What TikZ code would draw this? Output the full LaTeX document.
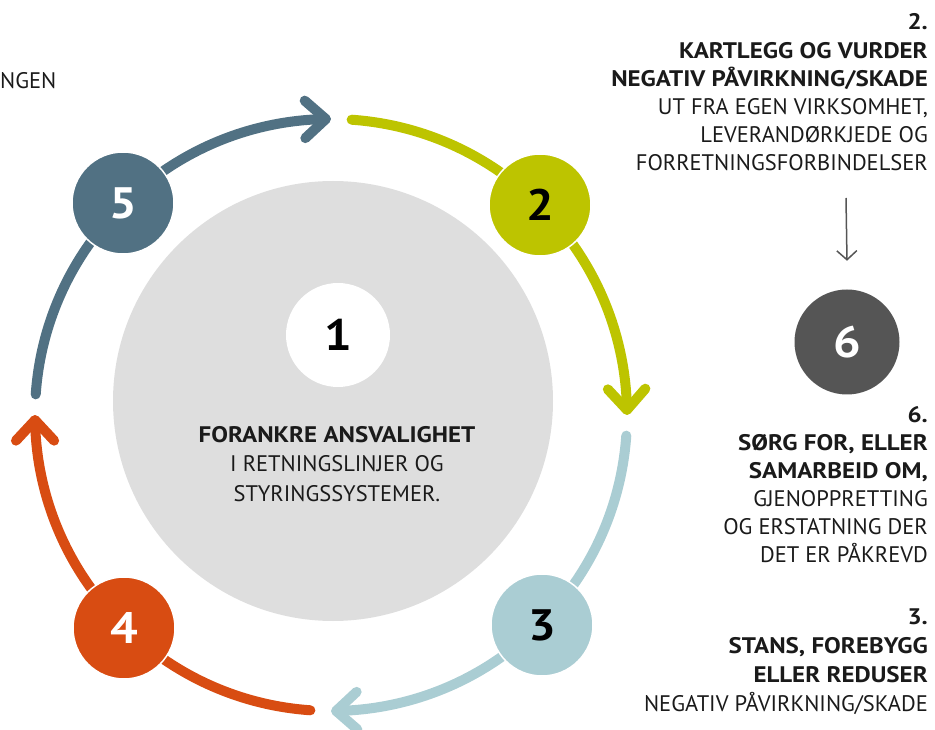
\documentclass[tikz,border=0pt]{standalone}
\usepackage{fontspec}
\setmainfont{PT Sans}[BoldFeatures={FakeStretch=1.11}]
\usetikzlibrary{calc,arrows.meta}
\definecolor{cblue}{HTML}{517183}
\definecolor{cgreen}{HTML}{BDC400}
\definecolor{clight}{HTML}{AACDD3}
\definecolor{corange}{HTML}{D84C12}
\definecolor{cgray}{HTML}{DEDEDE}
\definecolor{cdark}{HTML}{555555}
\definecolor{ctext}{HTML}{1A1A1A}
\begin{document}
\begin{tikzpicture}[x=1pt,y=1pt,
  seg/.style={line width=10pt, line cap=round, line join=round},
  numc/.style={circle, minimum size=102pt, inner sep=0pt, draw=white, line width=1.5pt,
    font=\fontsize{44}{44}\selectfont\bfseries},
  lbl/.style={align=right, anchor=base east, inner sep=0pt,
    font=\fontsize{22.5}{28.2}\selectfont, text=ctext},
  ctr/.style={align=center, anchor=base, inner sep=0pt,
    font=\fontsize{22.5}{29}\selectfont, text=ctext},
]
\useasboundingbox (0,0) rectangle (935,729);
\coordinate (C) at (331,314);
\node[circle, fill=cgray, minimum size=440pt, inner sep=0pt] (core) at (333,328) {};
% cycle arcs
\draw[seg, cblue] (C) ++(176:296) arc[start angle=176, end angle=91, radius=296] coordinate (t5);
\draw[seg, cblue] ($(t5)+(223:28)$) -- (t5) -- ($(t5)+(139:28)$);
\draw[seg, cgreen] (C) ++(86:296) arc[start angle=86, end angle=1, radius=296] coordinate (t2);
\draw[seg, cgreen] ($(t2)+(133:28)$) -- (t2) -- ($(t2)+(49:28)$);
\draw[seg, clight] (C) ++(-4:296) arc[start angle=-4, end angle=-89, radius=296] coordinate (t3);
\draw[seg, clight] ($(t3)+(43:28)$) -- (t3) -- ($(t3)+(-41:28)$);
\draw[seg, corange] (C) ++(-94:296) arc[start angle=-94, end angle=-179, radius=296] coordinate (t4);
\draw[seg, corange] ($(t4)+(-47:28)$) -- (t4) -- ($(t4)+(-133:28)$);
% number circles
\node[numc, fill=cblue, text=white] (n5) at (123,526) {5};
\node[numc, fill=cgreen, text=black] (n2) at (540,524) {2};
\node[numc, fill=clight, text=black] (n3) at (542,104) {3};
\node[numc, fill=corange, text=white] (n4) at (124,101) {4};
\node[numc, fill=white, text=black, minimum size=104pt, draw=none] (n1) at (338,394) {1};
\node[numc, fill=cdark, text=white, minimum size=105pt, draw=none] (n6) at (847,387) {6};
% arrow to 6
\coordinate (a6s) at (846,531);
\draw[cdark, line width=1.5pt, -{Straight Barb[length=9pt,width=20pt]}] (a6s) -- ([yshift=28pt]n6.north);
% texts
\node[ctr] (tc) at (337,228) {\textbf{FORANKRE ANSVALIGHET}\\I RETNINGSLINJER OG\\STYRINGSSYSTEMER.};
\node[lbl] (l2) at (928,558) {\textbf{2.}\\\textbf{KARTLEGG OG VURDER}\\\textbf{NEGATIV PÅVIRKNING/SKADE}\\UT FRA EGEN VIRKSOMHET,\\LEVERANDØRKJEDE OG\\FORRETNINGSFORBINDELSER};
\node[lbl] (l6) at (928,166) {\textbf{6.}\\\textbf{SØRG FOR, ELLER}\\\textbf{SAMARBEID OM,}\\GJENOPPRETTING\\OG ERSTATNING DER\\DET ER PÅKREVD};
\node[lbl, font=\fontsize{22.5}{29}\selectfont] (l3) at (928,18) {\textbf{3.}\\\textbf{STANS, FOREBYGG}\\\textbf{ELLER REDUSER}\\NEGATIV PÅVIRKNING/SKADE};
\node[anchor=base west, inner sep=0pt, font=\fontsize{22.5}{28}\selectfont, text=ctext] (l5) at (0,640) {NGEN};
\end{tikzpicture}
\end{document}
